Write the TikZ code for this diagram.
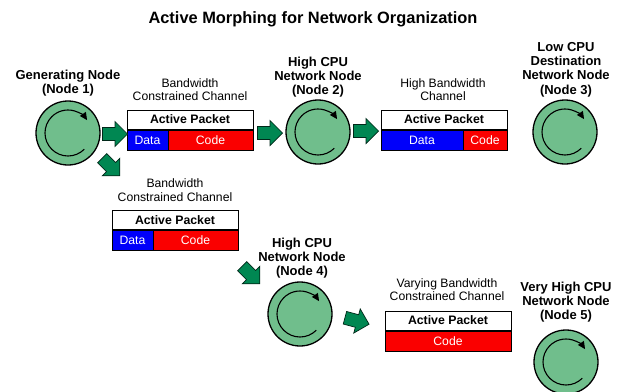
\documentclass[tikz,border=0pt]{standalone}
\usepackage{fontspec}
\setmainfont{Liberation Sans}
\usetikzlibrary{arrows.meta}

\definecolor{nodegreen}{RGB}{112,190,140}
\definecolor{arrowgreen}{RGB}{0,135,82}
\definecolor{datablue}{RGB}{0,0,250}
\definecolor{codered}{RGB}{250,0,0}

\tikzset{
  netnode/.style={circle, draw=black, line width=1.3pt, fill=nodegreen,
    minimum size=64pt, inner sep=0pt},
  spin/.style={line width=1.1pt, -{Triangle[length=7.5pt,width=7pt]}},
  fatarrowline/.style={draw=black!70!arrowgreen, line width=0.7pt, fill=arrowgreen,
    line join=miter},
  fatarrow/.pic={
    \path[fatarrowline] (-12.5,-6.5) -- (0,-6.5) -- (0,-12.5) -- (12.5,0)
      -- (0,12.5) -- (0,6.5) -- (-12.5,6.5) -- cycle;
  },
  nodelabel/.style={align=center, font=\fontsize{13}{14.3}\selectfont\bfseries},
  chanlabel/.style={align=center, font=\fontsize{12.2}{13.5}\selectfont},
  pkhead/.style={draw=black, line width=1pt, fill=white, minimum height=19pt,
    inner sep=0pt, font=\fontsize{12.3}{14}\selectfont\bfseries},
  pkcell/.style={draw=black, line width=1pt, minimum height=20pt, inner sep=0pt,
    text=white, font=\fontsize{12.2}{14}\selectfont},
}

% one network node with its rotating arrow inside
\newcommand{\netnode}[2]{%
  \node[netnode] (#1) at (#2) {};
  \draw[spin] ([shift={(-45:23pt)}]#1.center) arc[start angle=-45, end angle=-326, radius=23pt];
}

\begin{document}
\begin{tikzpicture}[x=1pt,y=-1pt]
\useasboundingbox (0,0) rectangle (618,391);

% title
\node[font=\fontsize{16.4}{18}\selectfont\bfseries] (title) at (313,19.5)
  {Active Morphing for Network Organization};

% network nodes
\netnode{n1}{68,133}
\netnode{n2}{318,132}
\netnode{n3}{565,132}
\netnode{n4}{300,314}
\netnode{n5}{566,362}

\node[nodelabel] (l1) at (68,83) {Generating Node\\(Node 1)};
\node[nodelabel] (l2) at (318,77) {High CPU\\Network Node\\(Node 2)};
\node[nodelabel] (l3) at (566,69.5) {Low CPU\\Destination\\Network Node\\(Node 3)};
\node[nodelabel] (l4) at (302,258) {High CPU\\Network Node\\(Node 4)};
\node[nodelabel] (l5) at (566,302) {Very High CPU\\Network Node\\(Node 5)};

% channel labels
\node[chanlabel] (c1) at (190,89.5) {Bandwidth\\Constrained Channel};
\node[chanlabel] (c2) at (443,89.5) {High Bandwidth\\Channel};
\node[chanlabel] (c3) at (175,190) {Bandwidth\\Constrained Channel};
\node[chanlabel] (c5) at (447,289.5) {Varying Bandwidth\\Constrained Channel};

% packet 1
\node[pkhead, minimum width=126pt] (p1) at (190,119.5) {Active Packet};
\node[pkcell, fill=datablue, minimum width=41pt, anchor=north west] (p1d) at (p1.south west) {Data};
\node[pkcell, fill=codered, minimum width=85pt, anchor=north east] (p1c) at (p1.south east) {Code};

% packet 2
\node[pkhead, minimum width=126pt] (p2) at (444,119.5) {Active Packet};
\node[pkcell, fill=datablue, minimum width=82pt, anchor=north west] (p2d) at (p2.south west) {Data};
\node[pkcell, fill=codered, minimum width=44pt, anchor=north east] (p2c) at (p2.south east) {Code};

% packet 3
\node[pkhead, minimum width=126pt] (p3) at (175,220) {Active Packet};
\node[pkcell, fill=datablue, minimum width=41pt, anchor=north west] (p3d) at (p3.south west) {Data};
\node[pkcell, fill=codered, minimum width=85pt, anchor=north east] (p3c) at (p3.south east) {Code};

% packet 5 (code only)
\node[pkhead, minimum width=126pt] (p5) at (448,320.5) {Active Packet};
\node[pkcell, fill=codered, minimum width=126pt, anchor=north] (p5c) at (p5.south) {Code};

% block arrows between the stages
\pic at (115,134) {fatarrow};
\pic at (270,133) {fatarrow};
\pic at (366,131) {fatarrow};
\pic[rotate=-45] at (111,167) {fatarrow};
\pic[rotate=-45] at (251,275) {fatarrow};
\pic[rotate=-15] at (357,321) {fatarrow};

\end{tikzpicture}
\end{document}
